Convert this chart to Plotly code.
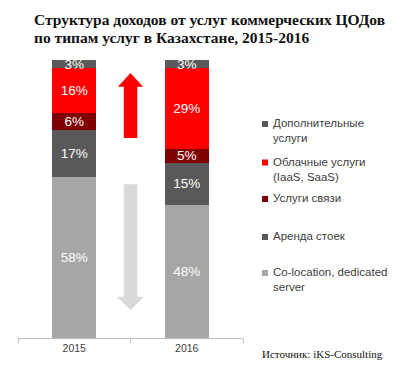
import plotly.graph_objects as go

years = ["2015", "2016"]
series_names = [
    "Co-location, dedicated server",
    "Аренда стоек",
    "Услуги связи",
    "Облачные услуги (IaaS, SaaS)",
    "Дополнительные услуги",
]
colocation = [58, 48]
racks = [17, 15]
telecom = [6, 5]
cloud = [16, 29]
additional = [3, 3]
series_values = [colocation, racks, telecom, cloud, additional]
series_colors = ["#A6A6A6", "#595959", "#7F0000", "#FF0000", "#595959"]

legend_labels = [
    "Дополнительные<br>услуги",
    "Облачные услуги<br>(IaaS, SaaS)",
    "Услуги связи",
    "Аренда стоек",
    "Co-location, dedicated<br>server",
]
legend_colors = ["#595959", "#FF0000", "#7F0000", "#595959", "#A6A6A6"]

title_line1 = "Структура доходов от услуг коммерческих ЦОДов"
title_line2 = "по типам услуг в Казахстане, 2015-2016"
source_text = "Источник: iKS-Consulting"

W, H = 400, 370
ml, mr, mt, mb = 18, 157, 60, 32
pw, ph = W - ml - mr, H - mt - mb

fig = go.Figure()
for name, vals, col in zip(series_names, series_values, series_colors):
    fig.add_trace(go.Bar(
        x=years, y=vals, name=name, marker_color=col, marker_line_width=0,
        width=0.39, text=[f"{v}%" for v in vals], textposition="inside",
        insidetextanchor="middle", textangle=0, constraintext="none",
        cliponaxis=False,
        textfont=dict(family="Liberation Sans Narrow, Liberation Sans, Arial", size=13.5, color="white"),
        showlegend=False, hoverinfo="skip",
    ))

def px_x(p):
    return (p - ml) / pw

def py_y(p):
    return (H - mb - p) / ph

shapes = []
# red up arrow (decoration), paper x, data y
cx = 0.5
sw, hw = 0.03, 0.056
shapes.append(dict(type="path", xref="paper", yref="y",
    path=f"M {cx-sw},71.9 L {cx-sw},90.4 L {cx-hw},90.4 L {cx},95.3 L {cx+hw},90.4 L {cx+sw},90.4 L {cx+sw},71.9 Z",
    fillcolor="#FF0000", line=dict(width=0)))
hw2 = 0.06
shapes.append(dict(type="path", xref="paper", yref="y",
    path=f"M {cx-sw},55.3 L {cx-sw},14.8 L {cx-hw2},14.8 L {cx},10.0 L {cx+hw2},14.8 L {cx+sw},14.8 L {cx+sw},55.3 Z",
    fillcolor="#D9D9D9", line=dict(width=0)))

annotations = []
leg_y = [124, 162.5, 199, 237, 273]
for lab, col, y in zip(legend_labels, legend_colors, leg_y):
    shapes.append(dict(type="rect", xref="paper", yref="paper",
        x0=px_x(262), x1=px_x(268), y0=py_y(y + 3), y1=py_y(y - 3),
        fillcolor=col, line=dict(width=0)))
    annotations.append(dict(xref="paper", yref="paper", x=px_x(270.5), y=py_y(y - 9),
        xanchor="left", yanchor="top", align="left", showarrow=False, text=lab,
        font=dict(family="Liberation Sans, Arial", size=11.5, color="#404040")))

annotations.append(dict(xref="paper", yref="paper", x=px_x(32), y=py_y(19.5),
    xanchor="left", yanchor="middle", showarrow=False, text=f"<b>{title_line1}</b>",
    font=dict(family="Liberation Serif, serif", size=15.5, color="#111111")))
annotations.append(dict(xref="paper", yref="paper", x=px_x(32), y=py_y(37.2),
    xanchor="left", yanchor="middle", showarrow=False, text=f"<b>{title_line2}</b>",
    font=dict(family="Liberation Serif, serif", size=15.5, color="#111111")))
annotations.append(dict(xref="paper", yref="paper", x=px_x(385), y=py_y(354),
    xanchor="right", yanchor="middle", showarrow=False, text=source_text,
    font=dict(family="Liberation Serif, serif", size=11, color="#111111")))

fig.update_layout(
    width=W, height=H, barmode="stack",
    margin=dict(l=ml, r=mr, t=mt, b=mb, pad=0),
    paper_bgcolor="white", plot_bgcolor="white",
    xaxis=dict(type="category", range=[-0.5, 1.5], showline=True, linecolor="#BFBFBF",
               linewidth=1, ticks="outside", tickson="boundaries", ticklen=4,
               tickcolor="#BFBFBF", showgrid=False,
               tickfont=dict(family="Liberation Sans, Arial", size=10.5, color="#404040")),
    yaxis=dict(range=[0, 100], visible=False, showgrid=False),
    shapes=shapes, annotations=annotations, showlegend=False,
)
fig.write_html("out.html", config={"displayModeBar": False},
               post_script="document.body.style.margin='0';")
